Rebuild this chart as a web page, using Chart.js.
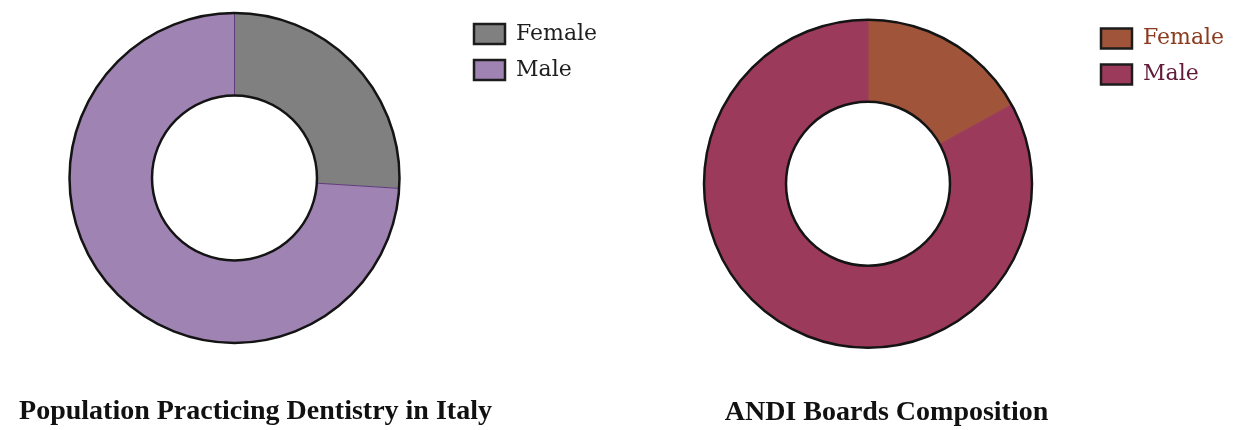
<!DOCTYPE html>
<html>
<head>
<meta charset="utf-8" />
<title>Gender composition</title>
<script src="https://cdn.jsdelivr.net/npm/chart.js@4.4.1/dist/chart.umd.min.js"></script>
<style>
	html, body { margin: 0; padding: 0; background: #fff; overflow: hidden; }
	body { width: 1237px; height: 430px; position: relative; }
	canvas { position: absolute; top: 0; }
	#dentistsChart { left: 0; }
	#boardsChart { left: 620px; }
</style>
</head>
<body>
<canvas id="dentistsChart" width="620" height="430"></canvas>
<canvas id="boardsChart" width="617" height="430"></canvas>
<script>
	// shares in percent
	const genderLabels = ['Female', 'Male'];
	const dentistsShare = [26, 74];
	const boardsShare = [17, 83];

	const dentistsColors = ['#808080', '#9f83b3'];
	const boardsColors = ['#a0553a', '#9c3a5c'];

	// black ring outline drawn over the arcs (outer and inner edge)
	const ringOutline = {
		id: 'ringOutline',
		afterDatasetsDraw(chart) {
			const arc = chart.getDatasetMeta(0).data[0];
			if (!arc) return;
			const {x, y, outerRadius, innerRadius} = arc.getProps(['x', 'y', 'outerRadius', 'innerRadius'], true);
			const ctx = chart.ctx;
			ctx.save();
			ctx.strokeStyle = '#141414';
			ctx.lineWidth = 2.5;
			ctx.beginPath();
			ctx.arc(x, y, outerRadius, 0, Math.PI * 2);
			ctx.stroke();
			ctx.beginPath();
			ctx.arc(x, y, innerRadius, 0, Math.PI * 2);
			ctx.stroke();
			ctx.restore();
		}
	};

	// the legend only reserves a narrow strip in the layout (maxWidth),
	// so let its box run on to the canvas edge before it is drawn and clipped
	const legendOverflow = {
		id: 'legendOverflow',
		afterLayout(chart) {
			if (chart.legend) chart.legend.right = chart.width;
		}
	};

	function makeDoughnut(canvasId, values, colors, borderColors, textColors, title, lay) {
		return new Chart(document.getElementById(canvasId).getContext('2d'), {
			type: 'doughnut',
			data: {
				labels: genderLabels,
				datasets: [{
					data: values,
					backgroundColor: colors,
					borderColor: borderColors,
					borderWidth: 1,
					radius: lay.radius,
					cutout: '50%'
				}]
			},
			options: {
				responsive: false,
				animation: false,
				events: [],
				layout: { padding: lay.padding },
				plugins: {
					tooltip: { enabled: false },
					legend: {
						position: 'right',
						align: 'start',
						maxWidth: lay.legendWidth,
						labels: {
							boxWidth: 31,
							boxHeight: 20,
							padding: 14,
							font: { family: 'DejaVu Serif', size: 22 },
							generateLabels(chart) {
								const items = Chart.overrides.doughnut.plugins.legend.labels.generateLabels(chart);
								items.forEach((it, i) => {
									it.strokeStyle = '#1c1c1c';
									it.lineWidth = 2.5;
									it.fontColor = textColors[i];
								});
								return items;
							}
						}
					},
					title: {
						display: true,
						position: 'bottom',
						text: title,
						color: '#111',
						font: { family: 'Liberation Serif', size: 28, weight: 'bold' },
						padding: lay.titlePadding
					}
				}
			},
			plugins: [ringOutline, legendOverflow]
		});
	}

	makeDoughnut('dentistsChart', dentistsShare, dentistsColors,
		['#808080', '#5e3c7a'], ['#1e1e1e', '#1e1e1e'],
		'Population Practicing Dentistry in Italy',
		{ radius: 165, legendWidth: 42, padding: { left: 9, top: 9, right: 118, bottom: 0 }, titlePadding: { top: 48, bottom: 1.4 } });

	makeDoughnut('boardsChart', boardsShare, boardsColors,
		boardsColors, ['#8a3a1e', '#611a3a'],
		'ANDI Boards Composition',
		{ radius: 164, legendWidth: 37, padding: { left: 29, top: 13.5, right: 113, bottom: 0 }, titlePadding: { top: 41.5, bottom: 0.9 } });
</script>
</body>
</html>
